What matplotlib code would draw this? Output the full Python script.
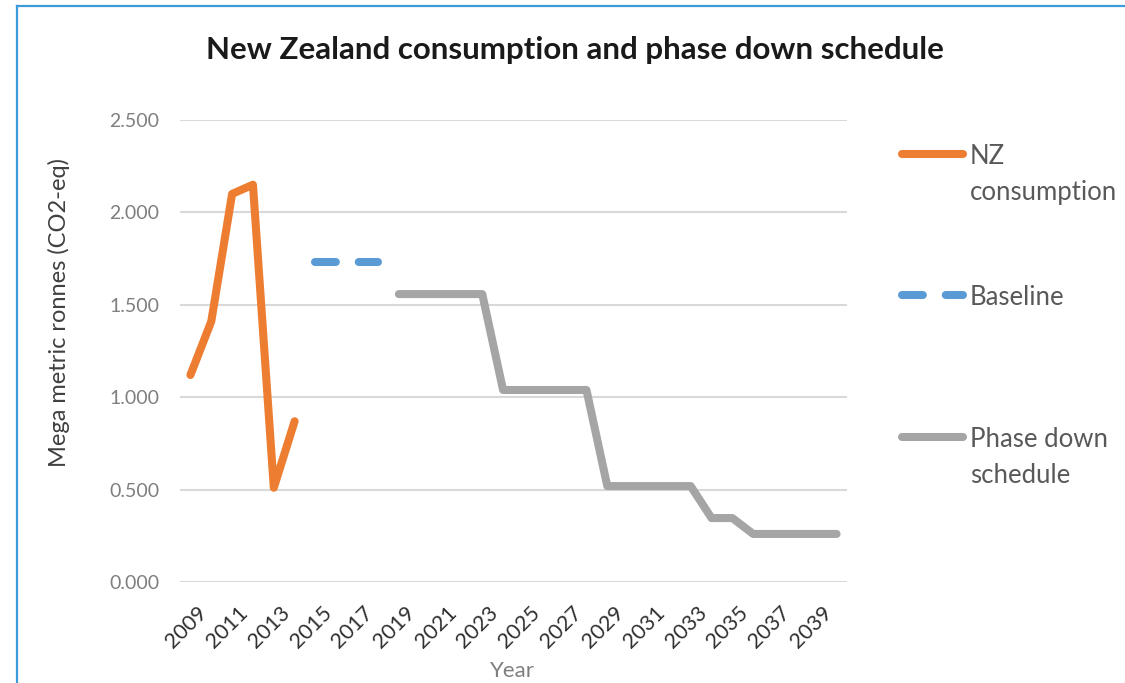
import matplotlib
matplotlib.use('Agg')
import matplotlib.pyplot as plt
import matplotlib.transforms as mtransforms
from matplotlib.lines import Line2D

# data
years = list(range(2009, 2041))
nz_years = [2009, 2010, 2011, 2012, 2013, 2014]
nz_consumption = [1.12, 1.41, 2.10, 2.15, 0.51, 0.87]
base_years = [2015, 2016, 2017, 2018]
baseline = [1.731, 1.731, 1.731, 1.731]
phase_years = list(range(2019, 2041))
phase_down = [1.558] * 5 + [1.039] * 5 + [0.519] * 5 + [0.346] * 2 + [0.260] * 5
tick_years = years[::2]
y_ticks = [0.0, 0.5, 1.0, 1.5, 2.0, 2.5]

ORANGE = '#ED7D31'
BLUE = '#5B9BD5'
GREY = '#A5A5A5'

plt.rcParams['font.family'] = ['Lato', 'DejaVu Sans']
plt.rcParams['lines.scale_dashes'] = False

W, H = 1125, 683
fig = plt.figure(figsize=(W / 100, H / 100), dpi=100)
ax = fig.add_axes([180 / W, 1 - 582 / H, (847 - 180) / W, (582 - 120) / H])

lw = 5.8
dash = (0, (15, 16.5))
ax.plot(nz_years, nz_consumption, color=ORANGE, lw=lw, solid_capstyle='round', solid_joinstyle='round')
ax.plot(base_years, baseline, color=BLUE, lw=lw, linestyle=dash, dash_capstyle='round')
ax.plot(phase_years, phase_down, color=GREY, lw=lw, solid_capstyle='round', solid_joinstyle='round')

ax.set_xlim(2008.5, 2040.5)
ax.set_ylim(0, 2.5)
ax.set_yticks(y_ticks)
ax.set_yticklabels(['%.3f' % v for v in y_ticks])
ax.set_xticks(tick_years)
ax.set_xticklabels([str(y) for y in tick_years])
ax.grid(axis='y', color='#D9D9D9', lw=1.5)
ax.set_axisbelow(True)
for s in ax.spines.values():
    s.set_visible(False)
ax.tick_params(axis='both', length=0)
ax.tick_params(axis='y', labelsize=14, labelcolor='#7F7F7F', pad=15)
ax.tick_params(axis='x', labelsize=15.5, labelcolor='#303030', pad=15)
offset = mtransforms.ScaledTranslation(6 / 100, 0, fig.dpi_scale_trans)
for lab in ax.get_xticklabels():
    lab.set_rotation(45)
    lab.set_ha('right')
    lab.set_va('top')
    lab.set_rotation_mode('anchor')
    lab.set_transform(lab.get_transform() + offset)

ax.set_ylabel('Mega metric ronnes (CO2-eq)', fontsize=17, color='#404040')
ax.yaxis.set_label_coords(70 / W, 1 - 313 / H, transform=fig.transFigure)
fig.text(512 / W, 1 - 671 / H, 'Year', fontsize=16, color='#7F7F7F', ha='center', va='center')

fig.text(575 / W, 1 - 50 / H, 'New Zealand consumption and phase down schedule',
         fontsize=22.5, fontweight='bold', color='#1A1A1A', ha='center', va='center')

# legend drawn by hand so the key sits on the first text line
legend_rows = [
    (154, ORANGE, '-', 'NZ\nconsumption'),
    (295, BLUE, dash, 'Baseline'),
    (437, GREY, '-', 'Phase down\nschedule'),
]
for ly, col, ls, txt in legend_rows:
    yf = 1 - ly / H
    fig.add_artist(Line2D([902 / W, 963 / W], [yf, yf], transform=fig.transFigure, color=col, lw=lw,
                          linestyle=ls, solid_capstyle='round', dash_capstyle='round'))
    fig.text(970 / W, 1 - (ly - 10) / H, txt, fontsize=18.5, color='#595959', ha='left', va='top',
             linespacing=1.55)

# blue frame of the original screenshot
fig.add_artist(Line2D([17 / W, 1], [1 - 6 / H, 1 - 6 / H], transform=fig.transFigure, color='#3D9BD8', lw=1.6))
fig.add_artist(Line2D([17 / W, 17 / W], [0, 1 - 6 / H], transform=fig.transFigure, color='#3D9BD8', lw=1.6))

fig.savefig('out.png', dpi=100)
